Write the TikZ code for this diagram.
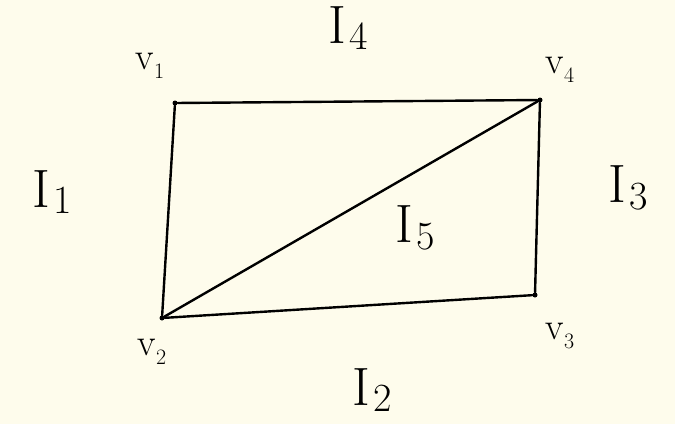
\documentclass[tikz,border=0pt]{standalone}
\usepackage{fontspec}
\definecolor{bgc}{HTML}{FEFCEC}
\newcommand\Ilab[1]{I\kern3pt\raisebox{-0.12em}{\fontsize{40}{40}\selectfont #1}}
\newcommand\Vlab[1]{v\raisebox{-0.25em}{\fontsize{22}{22}\selectfont #1}}
\tikzset{
  vert/.style={circle,fill=black,inner sep=0pt,minimum size=5pt},
  edge/.style={line width=2.4pt,line cap=round},
  vlab/.style={font=\fontsize{38}{38}\selectfont},
  rlab/.style={font=\fontsize{54}{54}\selectfont}
}
\begin{document}
\begin{tikzpicture}[x=1pt,y=-1pt]
\fill[bgc] (0,0) rectangle (675,424);
\useasboundingbox (0,0) rectangle (675,424);
\node[vert] (v1) at (175,103) {};
\node[vert] (v4) at (540,100) {};
\node[vert] (v3) at (535,295) {};
\node[vert] (v2) at (162,318) {};
\draw[edge] (v1) -- (v4) -- (v3) -- (v2) -- (v1);
\draw[edge] (v2) -- (v4);
\node[vlab] (l1) at (150,66) {\Vlab{1}};
\node[vlab] (l4) at (560,70) {\Vlab{4}};
\node[vlab] (l3) at (560,336) {\Vlab{3}};
\node[vlab] (l2) at (152,352) {\Vlab{2}};
\node[rlab] (i4) at (348,28) {\Ilab{4}};
\node[rlab] (i1) at (52,192) {\Ilab{1}};
\node[rlab] (i3) at (628,188) {\Ilab{3}};
\node[rlab] (i5) at (415,228) {\Ilab{5}};
\node[rlab] (i2) at (372,390) {\Ilab{2}};
\end{tikzpicture}
\end{document}
